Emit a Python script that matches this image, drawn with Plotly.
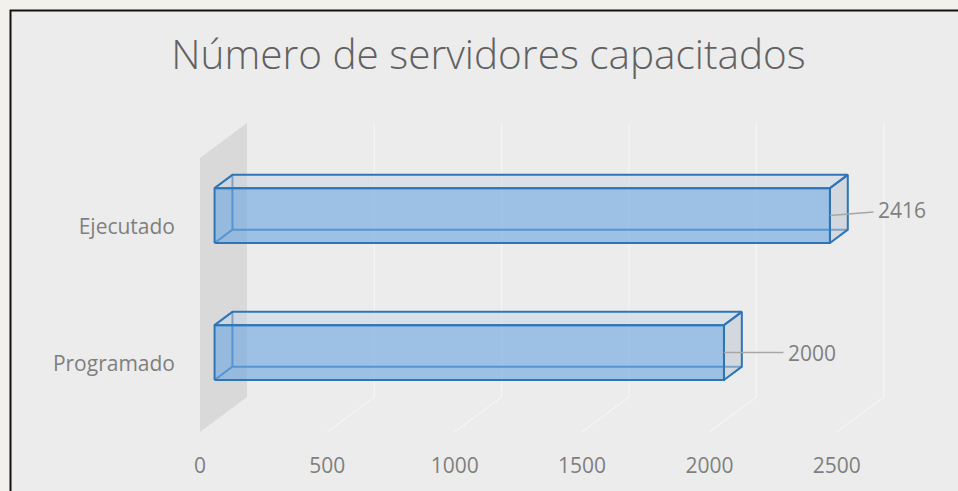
import plotly.graph_objects as go

# datos
categorias = ["Programado", "Ejecutado"]
valores = [2000, 2416]
ticks_x = [0, 500, 1000, 1500, 2000, 2500]
titulo = "Número de servidores capacitados"

# geometría (px) del gráfico 3D estilo Excel
W, H = 958, 491
ML, MR, MT, MB = 182, 10, 110, 46
S = 0.2547            # px por unidad en x
X0 = 200              # px del valor 0 en el plano frontal
PY = 137              # px por categoría
Y0 = 363.4            # px del centro de la primera categoría
DX = 47 / S           # profundidad en unidades de x
DY = 35 / PY          # profundidad en unidades de y
D1, D2 = 0.31, 0.69   # profundidad frontal / trasera de las barras
HB = 0.2              # media altura de barra (en categorías)

plot_w = W - ML - MR
plot_h = H - MT - MB
x_range = [(ML - X0) / S, (ML + plot_w - X0) / S]
y_range = [(Y0 - (MT + plot_h)) / PY, (Y0 - MT) / PY]

AZUL = "#2e75b6"
GRIS_TXT = "#7f7f7f"


def p(x, y, d):
    return x + d * DX, y + d * DY


def poly(pts):
    xs = [q[0] for q in pts] + [pts[0][0]]
    ys = [q[1] for q in pts] + [pts[0][1]]
    return xs, ys


fig = go.Figure()

y_lo, y_hi = -0.5, len(categorias) - 0.5

# pared lateral
xs, ys = poly([p(0, y_lo, 0), p(0, y_lo, 1), p(0, y_hi, 1), p(0, y_hi, 0)])
fig.add_trace(go.Scatter(x=xs, y=ys, fill="toself", fillcolor="#d9d9d9",
                         mode="lines", line=dict(width=0), hoverinfo="skip"))

# líneas de división (pared del fondo y suelo)
gx, gy = [], []
for t in ticks_x[1:]:
    a = p(t, y_hi, 1)
    b = p(t, y_lo, 1)
    c = p(t, y_lo, 0)
    gx += [a[0], b[0], c[0], None]
    gy += [a[1], b[1], c[1], None]
fig.add_trace(go.Scatter(x=gx, y=gy, mode="lines",
                         line=dict(color="#f5f5f5", width=1.2), hoverinfo="skip"))

# barras 3D
for i, v in enumerate(valores):
    c = i
    fb, ft = c - HB, c + HB
    # aristas ocultas
    hx, hy = [], []
    for seg in [(p(0, fb, D2), p(0, ft, D2)),
                (p(0, fb, D2), p(v, fb, D2)),
                (p(0, fb, D1), p(0, fb, D2))]:
        hx += [seg[0][0], seg[1][0], None]
        hy += [seg[0][1], seg[1][1], None]
    fig.add_trace(go.Scatter(x=hx, y=hy, mode="lines",
                             line=dict(color=AZUL, width=2), hoverinfo="skip"))
    # cara superior
    xs, ys = poly([p(0, ft, D1), p(v, ft, D1), p(v, ft, D2), p(0, ft, D2)])
    fig.add_trace(go.Scatter(x=xs, y=ys, fill="toself",
                             fillcolor="rgba(200,212,225,0.5)", mode="lines",
                             line=dict(color=AZUL, width=2), hoverinfo="skip"))
    # cara derecha
    xs, ys = poly([p(v, fb, D1), p(v, ft, D1), p(v, ft, D2), p(v, fb, D2)])
    fig.add_trace(go.Scatter(x=xs, y=ys, fill="toself",
                             fillcolor="rgba(190,200,212,0.55)", mode="lines",
                             line=dict(color=AZUL, width=2), hoverinfo="skip"))
    # cara frontal
    xs, ys = poly([p(0, fb, D1), p(0, ft, D1), p(v, ft, D1), p(v, fb, D1)])
    fig.add_trace(go.Scatter(x=xs, y=ys, fill="toself",
                             fillcolor="rgba(110,168,225,0.63)", mode="lines",
                             line=dict(color=AZUL, width=2), hoverinfo="skip"))

# etiquetas de datos con línea guía
desplaz = [(88, 0), (72, -6)]
for i, v in enumerate(valores):
    px_, py_ = p(v, i, D1)
    fig.add_annotation(x=px_, y=py_, text=str(v), showarrow=True,
                       arrowhead=0, arrowwidth=1.5, arrowcolor="#a6a6a6",
                       ax=desplaz[i][0], ay=desplaz[i][1], standoff=0,
                       borderpad=4,
                       font=dict(size=21, color=GRIS_TXT, family="Open Sans"))


# fondo del gráfico con borde
def to_px(px):
    return (px - ML) / plot_w


def to_py(py):
    return (MT + plot_h - py) / plot_h


fig.add_shape(type="rect", xref="paper", yref="paper", layer="below",
              x0=to_px(10.5), x1=to_px(W + 5), y0=to_py(H + 5), y1=to_py(10.5),
              fillcolor="#ececec", line=dict(color="#111111", width=2))

fig.update_layout(
    width=W, height=H,
    margin=dict(l=ML, r=MR, t=MT, b=MB),
    paper_bgcolor="#f3f1eb",
    plot_bgcolor="rgba(0,0,0,0)",
    showlegend=False,
    font=dict(family="Open Sans", color=GRIS_TXT),
    title=dict(text=titulo, xref="container", yref="container",
               x=488.5 / W, xanchor="center", y=1 - 55 / H, yanchor="middle",
               font=dict(size=40.5, color="#616161", family="Open Sans", weight=300)),
    xaxis=dict(range=x_range, tickvals=ticks_x, showgrid=False, zeroline=False,
               showline=False, ticks="", ticklabelstandoff=6,
               tickfont=dict(size=21, color=GRIS_TXT), fixedrange=True),
    yaxis=dict(range=y_range, tickvals=list(range(len(categorias))),
               ticktext=categorias, showgrid=False, zeroline=False,
               showline=False, ticks="", ticklabelstandoff=6,
               tickfont=dict(size=21, color=GRIS_TXT), fixedrange=True),
)

fig.write_html("out.html", config={"displayModeBar": False},
               post_script="document.body.style.margin='0';")
